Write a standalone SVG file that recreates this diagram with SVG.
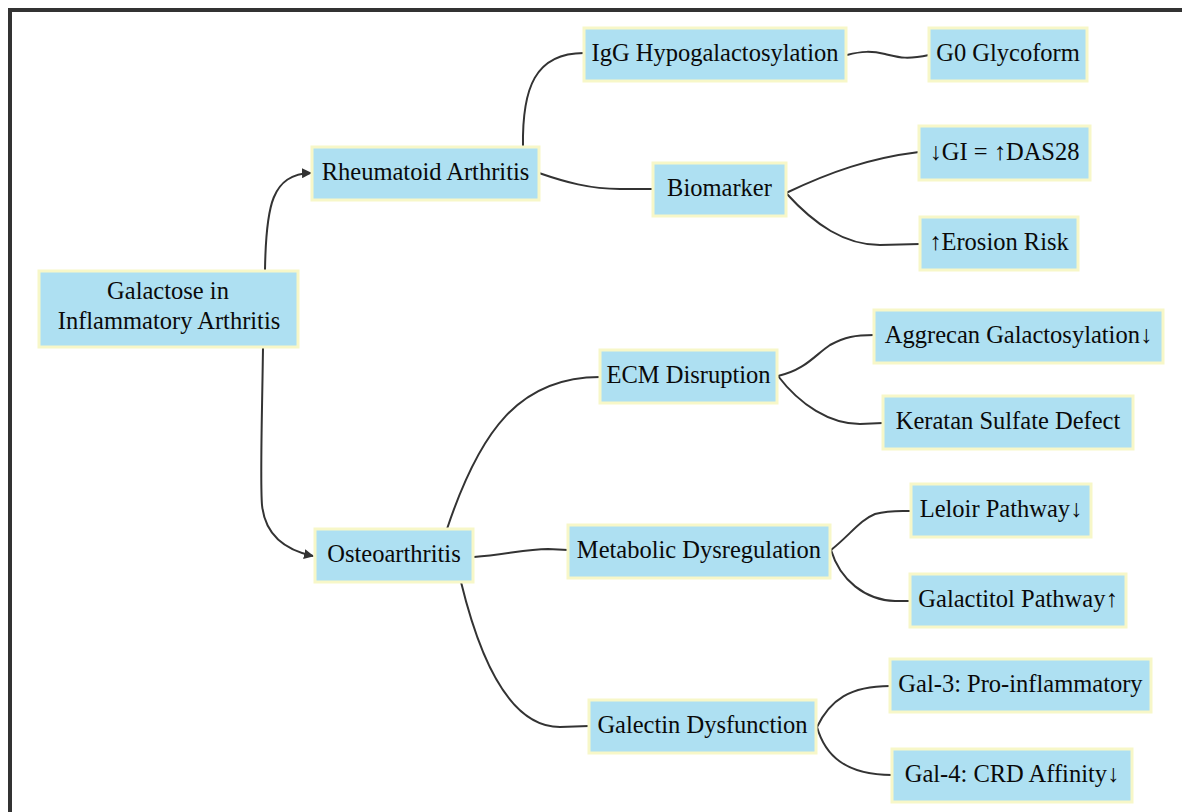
<svg xmlns="http://www.w3.org/2000/svg" width="1182" height="812" viewBox="0 0 1182 812">
<style>
.node rect{fill:#aee0f2;stroke:#f7f7c8;stroke-width:3}
.node text{font-family:'Liberation Serif','Times New Roman',serif;font-size:24.5px;fill:#0a0a0a;text-anchor:middle}
.edges path{fill:none;stroke:#333;stroke-width:2}
</style>
<defs>
<marker id="arr" viewBox="0 0 10 10" refX="9" refY="5" markerWidth="10" markerHeight="10" markerUnits="userSpaceOnUse" orient="auto">
<path d="M0,0 L10,5 L0,10 z" fill="#333"/>
</marker>
</defs>
<rect x="0" y="0" width="1182" height="812" fill="#fff"/>
<rect x="10" y="10" width="1220" height="860" fill="none" stroke="#333" stroke-width="4"/>
<g class="edges">
<path d="M265,270 C266,205 272,174 311,173" marker-end="url(#arr)"/>
<path d="M263,348 C262,420 260,480 262,505 C265,535 285,550 313,556" marker-end="url(#arr)"/>
<path d="M523,147 C522,88 535,53 584,53"/>
<path d="M539,173 C565,182 590,189 620,189 L653,189"/>
<path d="M847,55 C862,51 872,51 885,54 S905,60 929,55"/>
<path d="M786,193 C830,172 870,158 919,152"/>
<path d="M786,193 C815,225 845,245 880,245 L920,244"/>
<path d="M447,529 C480,430 520,377 600,377"/>
<path d="M474,557 C505,555 525,549 548,549 L568,550"/>
<path d="M461,582 C480,660 510,727 560,727 L589,726"/>
<path d="M778,376 C805,370 815,355 830,345 C845,337 855,335 874,335"/>
<path d="M778,376 C800,405 830,424 860,424 L883,423"/>
<path d="M831,550 C850,535 860,520 875,514 C890,510 900,511 911,511"/>
<path d="M831,550 C840,580 865,600 895,601 L910,601"/>
<path d="M817,727 C830,700 850,686 890,686"/>
<path d="M817,727 C825,755 845,775 892,775"/>
</g>
<g id="root" class="node"><rect x="39" y="271" width="259" height="76"/><text x="168" y="299">Galactose in</text><text x="169" y="329">Inflammatory Arthritis</text></g>
<g id="ra" class="node"><rect x="312" y="147" width="227" height="53"/><text x="425.5" y="180">Rheumatoid Arthritis</text></g>
<g id="igg" class="node"><rect x="584" y="28" width="262" height="53"/><text x="715" y="61">IgG Hypogalactosylation</text></g>
<g id="g0" class="node"><rect x="929" y="28" width="158" height="53"/><text x="1008" y="61">G0 Glycoform</text></g>
<g id="bio" class="node"><rect x="653" y="163" width="133" height="53"/><text x="719.5" y="196">Biomarker</text></g>
<g id="gi" class="node"><rect x="919" y="126" width="171" height="54"/><text x="1004.5" y="160">↓GI = ↑DAS28</text></g>
<g id="ero" class="node"><rect x="920" y="217" width="158" height="53"/><text x="999" y="250">↑Erosion Risk</text></g>
<g id="oa" class="node"><rect x="315" y="529" width="158" height="53"/><text x="394" y="562">Osteoarthritis</text></g>
<g id="ecm" class="node"><rect x="600" y="350" width="177" height="53"/><text x="688.5" y="383">ECM Disruption</text></g>
<g id="agg" class="node"><rect x="874" y="310" width="289" height="53"/><text x="1018.5" y="343">Aggrecan Galactosylation↓</text></g>
<g id="ker" class="node"><rect x="883" y="396" width="250" height="53"/><text x="1008" y="429">Keratan Sulfate Defect</text></g>
<g id="met" class="node"><rect x="568" y="525" width="262" height="53"/><text x="699" y="558">Metabolic Dysregulation</text></g>
<g id="lel" class="node"><rect x="911" y="484" width="180" height="53"/><text x="1001" y="517">Leloir Pathway↓</text></g>
<g id="gtl" class="node"><rect x="910" y="574" width="216" height="53"/><text x="1018" y="607">Galactitol Pathway↑</text></g>
<g id="gal" class="node"><rect x="589" y="700" width="227" height="53"/><text x="702.5" y="733">Galectin Dysfunction</text></g>
<g id="g3" class="node"><rect x="890" y="659" width="261" height="53"/><text x="1020.5" y="692">Gal-3: Pro-inflammatory</text></g>
<g id="g4" class="node"><rect x="892" y="749" width="240" height="53"/><text x="1012" y="782">Gal-4: CRD Affinity↓</text></g>
</svg>
